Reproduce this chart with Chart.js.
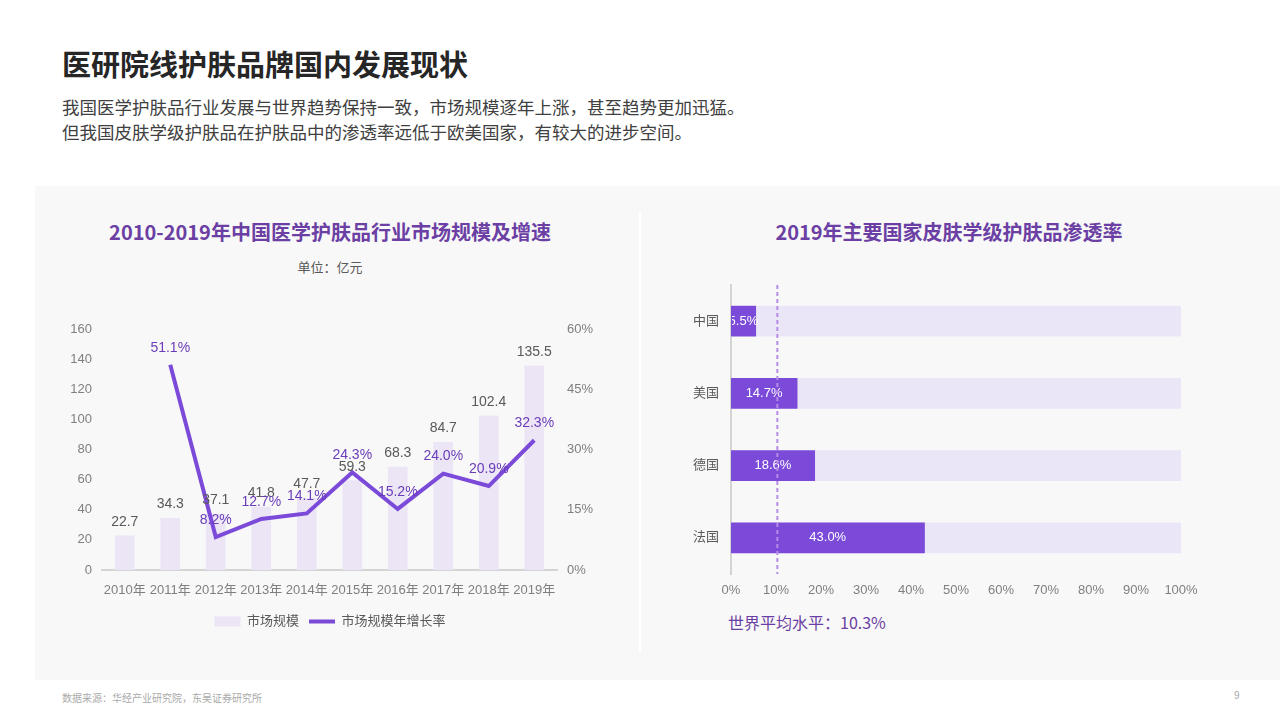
<!DOCTYPE html>
<html><head><meta charset="utf-8">
<script src="https://cdn.jsdelivr.net/npm/chart.js@4"></script>
<style>
html,body{margin:0;padding:0;background:#fff;}
body{width:1280px;height:720px;position:relative;overflow:hidden;font-family:'Liberation Sans','Noto Sans CJK SC',sans-serif;}
.abs{position:absolute;}
#title{left:62px;top:42px;font-family:'Noto Sans CJK SC',sans-serif;font-weight:700;font-size:29px;color:#262626;white-space:nowrap;}
.sub{left:62px;font-family:'Noto Sans CJK SC',sans-serif;font-size:17.5px;color:#404040;white-space:nowrap;}
#panel{left:35px;top:186px;width:1245px;height:494px;background:#f8f8f8;}
#divider{left:639px;top:212px;width:2px;height:440px;background:#ffffff;}
.ctitle{font-family:'Noto Sans CJK SC',sans-serif;font-weight:700;font-size:20px;color:#6b3fa3;white-space:nowrap;transform:translateX(-50%);}
#unit{left:330px;top:257px;font-family:'Noto Sans CJK SC',sans-serif;font-size:13px;color:#595959;transform:translateX(-50%);white-space:nowrap;}
#avg{left:728px;top:610px;font-family:'Noto Sans CJK SC',sans-serif;font-size:16px;color:#6b3fa3;white-space:nowrap;}
#src{left:62px;top:690px;font-family:'Noto Sans CJK SC',sans-serif;font-size:10px;color:#aaaaaa;white-space:nowrap;}
#page{left:1234px;top:690px;font-size:10px;color:#aaaaaa;}
</style></head>
<body>
<div id="title" class="abs">医研院线护肤品牌国内发展现状</div>
<div class="abs sub" style="top:94px">我国医学护肤品行业发展与世界趋势保持一致，市场规模逐年上涨，甚至趋势更加迅猛。</div>
<div class="abs sub" style="top:119px">但我国皮肤学级护肤品在护肤品中的渗透率远低于欧美国家，有较大的进步空间。</div>
<div id="panel" class="abs"></div>
<div id="divider" class="abs"></div>
<div class="abs ctitle" style="left:330px;top:217px">2010-2019年中国医学护肤品行业市场规模及增速</div>
<div id="unit" class="abs">单位：亿元</div>
<div class="abs ctitle" style="left:949px;top:217px">2019年主要国家皮肤学级护肤品渗透率</div>
<div class="abs" style="left:50px;top:300px;width:560px;height:338px;"><canvas id="c1" width="560" height="338"></canvas></div>
<div class="abs" style="left:640px;top:270px;width:570px;height:334px;"><canvas id="c2" width="570" height="334"></canvas></div>
<div id="avg" class="abs">世界平均水平：10.3%</div>
<div id="src" class="abs">数据来源：华经产业研究院，东吴证券研究所</div>
<div id="page" class="abs">9</div>
<script>
// ---- Data: left chart ----
const years = ['2010年','2011年','2012年','2013年','2014年','2015年','2016年','2017年','2018年','2019年'];
const marketSize = [22.7, 34.3, 37.1, 41.8, 47.7, 59.3, 68.3, 84.7, 102.4, 135.5];
const growthRate = [null, 51.1, 8.2, 12.7, 14.1, 24.3, 15.2, 24.0, 20.9, 32.3];
const sizeTicks = [0, 20, 40, 60, 80, 100, 120, 140, 160];
const rateTicks = [0, 15, 30, 45, 60];
// ---- Data: right chart ----
const countries = ['中国','美国','德国','法国'];
const penetration = [5.5, 14.7, 18.6, 43.0];
const fullTrack = [100, 100, 100, 100];
const worldAvg = 10.3;
const pctTicks = [0,10,20,30,40,50,60,70,80,90,100];

const FONT = "'Liberation Sans','Noto Sans CJK SC',sans-serif";
const PURPLE = '#7b4ad9';
const LIGHT = '#ebe5f6';

const labelPlugin1 = {
  id: 'labels1',
  afterDatasetsDraw(chart) {
    const ctx = chart.ctx;
    ctx.save();
    ctx.textAlign = 'center';
    ctx.textBaseline = 'middle';
    ctx.font = '14px ' + FONT;
    const barMeta = chart.getDatasetMeta(0);
    barMeta.data.forEach((el, i) => {
      ctx.fillStyle = '#595959';
      ctx.fillText(marketSize[i].toFixed(1), el.x, el.y - 14);
    });
    const lineMeta = chart.getDatasetMeta(1);
    lineMeta.data.forEach((el, i) => {
      if (growthRate[i] == null) return;
      ctx.fillStyle = '#6a3db8';
      ctx.fillText(growthRate[i].toFixed(1) + '%', el.x, el.y - 17);
    });
    ctx.restore();
  }
};

new Chart(document.getElementById('c1'), {
  type: 'bar',
  data: {
    labels: years,
    datasets: [
      { type: 'bar', label: '市场规模', data: marketSize, backgroundColor: LIGHT, barThickness: 19, yAxisID: 'y', order: 2 },
      { type: 'line', label: '市场规模年增长率', data: growthRate, borderColor: PURPLE, backgroundColor: PURPLE, borderWidth: 4, pointRadius: 0, tension: 0, yAxisID: 'y1', order: 1, spanGaps: false }
    ]
  },
  options: {
    responsive: false, animation: false,
    layout: { padding: { top: 29, left: 0, right: 0, bottom: 0 } },
    plugins: {
      tooltip: { enabled: false },
      legend: {
        position: 'bottom',
        labels: {
          font: { size: 13, family: FONT }, color: '#595959',
          usePointStyle: true, pointStyleWidth: 26, boxHeight: 10, padding: 10,
          generateLabels(chart) {
            return [
              { text: '市场规模', fillStyle: LIGHT, strokeStyle: LIGHT, lineWidth: 0, pointStyle: 'rect', datasetIndex: 0, fontColor: '#595959' },
              { text: '市场规模年增长率', fillStyle: PURPLE, strokeStyle: PURPLE, lineWidth: 4, pointStyle: 'line', datasetIndex: 1, fontColor: '#595959' }
            ];
          }
        }
      }
    },
    scales: {
      x: {
        grid: { display: false },
        border: { display: true, color: '#d4d4d4', width: 2 },
        ticks: { color: '#7f7f7f', font: { size: 13, family: FONT }, padding: 5, maxRotation: 0, autoSkip: false },
        afterFit(s) { s.height = 35; }
      },
      y: {
        position: 'left', min: 0, max: 160,
        grid: { display: false }, border: { display: false },
        afterBuildTicks(s) { s.ticks = sizeTicks.map(v => ({ value: v })); },
        ticks: { color: '#7f7f7f', font: { size: 13, family: FONT }, padding: 2 },
        afterFit(s) { s.width = 52; }
      },
      y1: {
        position: 'right', min: 0, max: 60,
        grid: { display: false }, border: { display: false },
        afterBuildTicks(s) { s.ticks = rateTicks.map(v => ({ value: v })); },
        ticks: { color: '#7f7f7f', font: { size: 13, family: FONT }, padding: 2, callback: v => v + '%' },
        afterFit(s) { s.width = 53; }
      }
    }
  },
  plugins: [labelPlugin1]
});

const avgPlugin = {
  id: 'avgline',
  afterDatasetsDraw(chart) {
    const ctx = chart.ctx;
    const a = chart.chartArea;
    ctx.save();
    ctx.beginPath();
    ctx.rect(a.left + 1, a.top, a.right - a.left, a.bottom - a.top);
    ctx.clip();
    ctx.textAlign = 'center';
    ctx.textBaseline = 'middle';
    ctx.font = '13px ' + FONT;
    ctx.fillStyle = '#ffffff';
    const meta = chart.getDatasetMeta(0);
    meta.data.forEach((el, i) => {
      ctx.fillText(penetration[i].toFixed(1) + '%', (el.x + el.base) / 2, el.y);
    });
    ctx.restore();
    const x = chart.scales.x.getPixelForValue(worldAvg);
    ctx.save();
    ctx.strokeStyle = '#b58de6';
    ctx.lineWidth = 2;
    ctx.setLineDash([4, 3]);
    ctx.beginPath();
    ctx.moveTo(x, a.top);
    ctx.lineTo(x, a.bottom);
    ctx.stroke();
    ctx.restore();
  }
};

new Chart(document.getElementById('c2'), {
  type: 'bar',
  data: {
    labels: countries,
    datasets: [
      { label: '渗透率', data: penetration, backgroundColor: PURPLE, barThickness: 30, order: 1 },
      { label: '100%', data: fullTrack, backgroundColor: '#ebe6f7', barThickness: 30, order: 2 }
    ]
  },
  options: {
    indexAxis: 'y',
    responsive: false, animation: false,
    layout: { padding: { top: 15, right: 29, left: 0, bottom: 0 } },
    plugins: { legend: { display: false }, tooltip: { enabled: false } },
    datasets: { bar: { grouped: false } },
    scales: {
      x: {
        min: 0, max: 100,
        grid: { display: false }, border: { display: false },
        afterBuildTicks(s) { s.ticks = pctTicks.map(v => ({ value: v })); },
        ticks: { color: '#7f7f7f', font: { size: 13, family: FONT }, padding: 1, callback: v => v + '%' },
        afterFit(s) { s.height = 30; }
      },
      y: {
        grid: { display: false },
        border: { display: true, color: '#d4d4d4', width: 2 },
        ticks: { color: '#595959', font: { size: 13, family: FONT }, padding: 4 },
        afterFit(s) { s.width = 91; }
      }
    }
  },
  plugins: [avgPlugin]
});
</script>
</body></html>
